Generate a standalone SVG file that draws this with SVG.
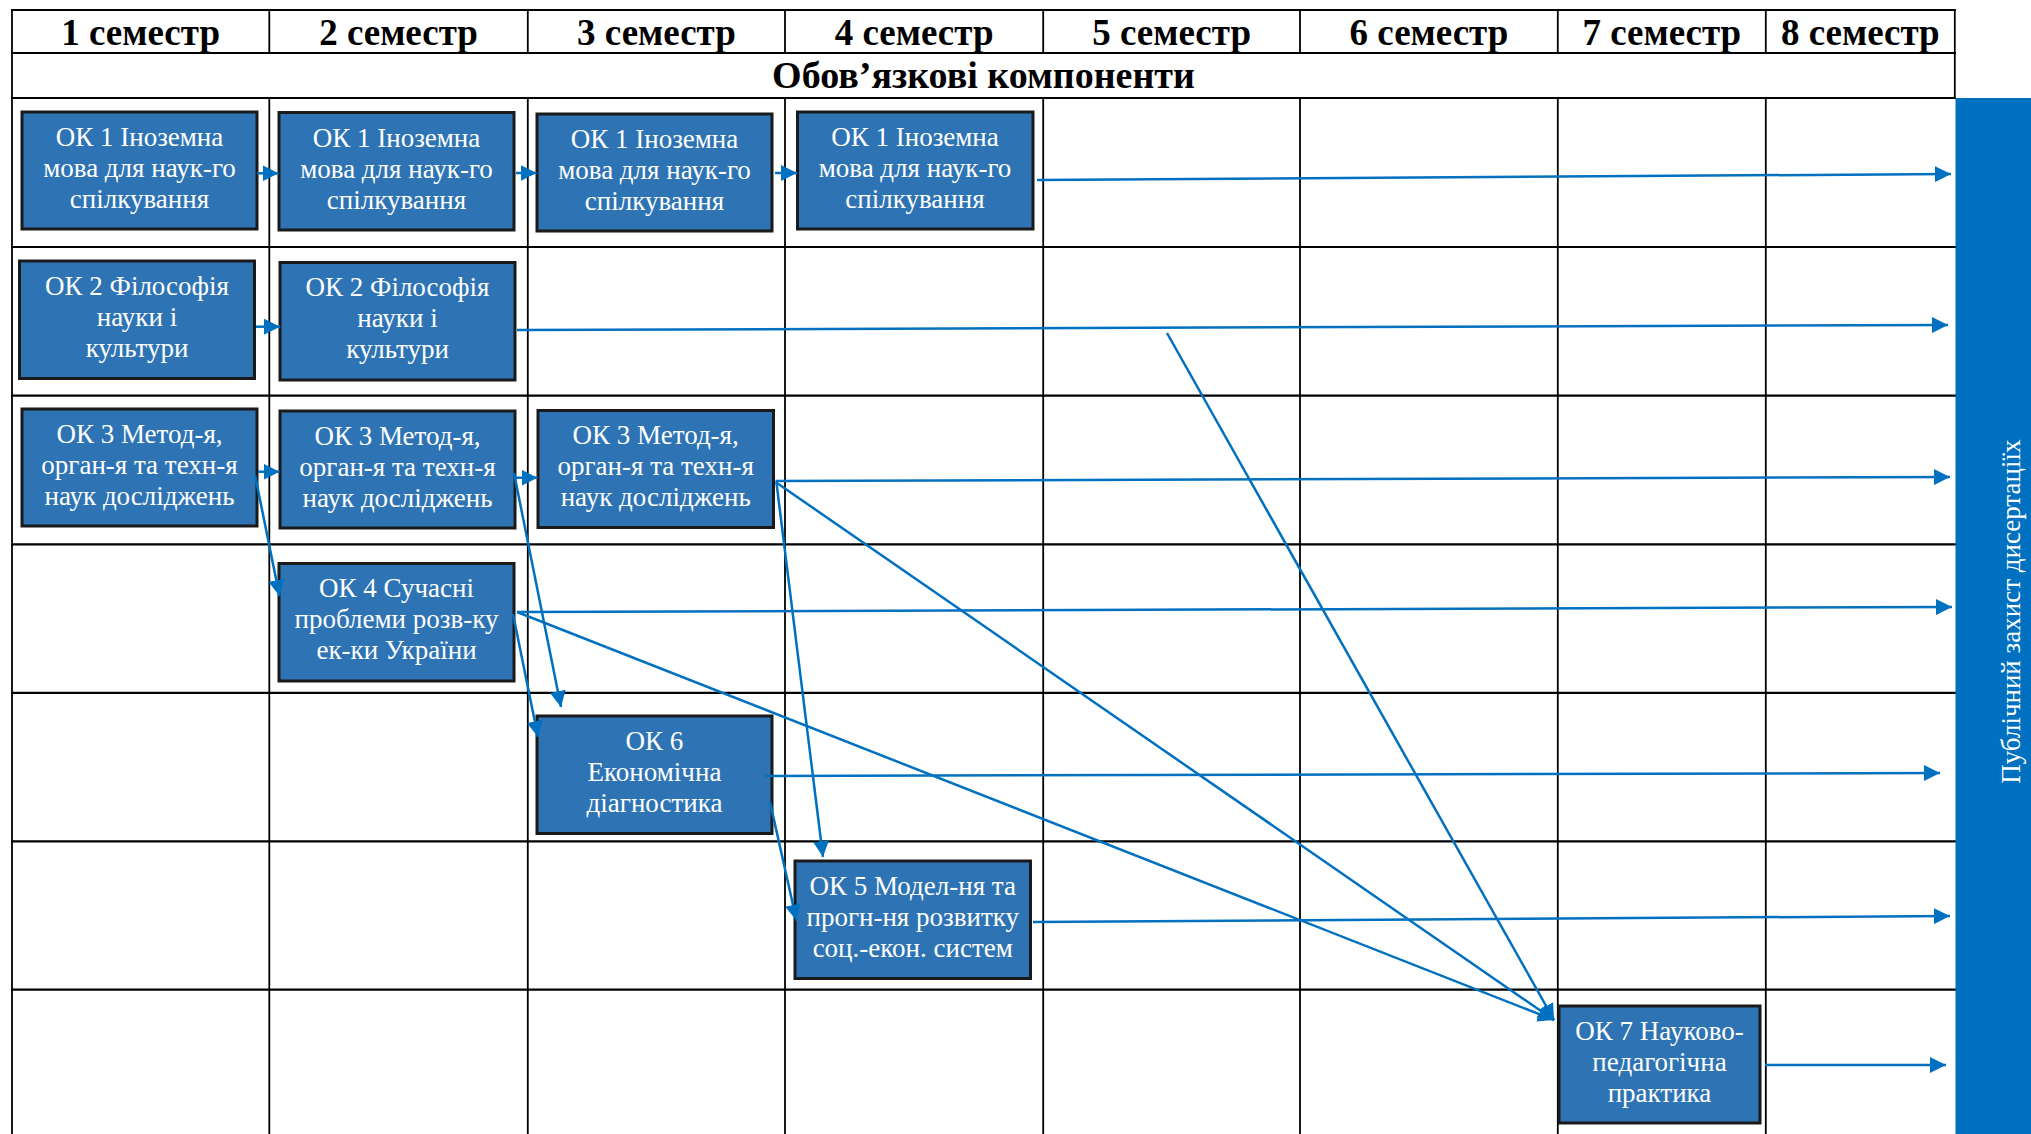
<svg xmlns="http://www.w3.org/2000/svg" width="2031" height="1134" viewBox="0 0 2031 1134">
<style>
.grid line{stroke:#000;}
.h{stroke-width:2.2;}
.v{stroke-width:1.8;}
.hd{font-family:"Liberation Serif","Times New Roman",serif;font-weight:bold;font-size:37px;fill:#000;text-anchor:middle;}
.ttl{font-size:38px;}
.box rect{fill:#2E74B5;stroke:#1a1a1a;stroke-width:3;}
.box text{font-family:"Liberation Serif","Times New Roman",serif;font-size:27px;fill:#fff;text-anchor:middle;}
.conn line{stroke:#0070C0;stroke-width:2.5;fill:none;marker-end:url(#ah);}
.bar{fill:#0070C0;}
.bartext{font-family:"Liberation Serif","Times New Roman",serif;font-size:27px;fill:#fff;text-anchor:middle;}
</style>
<defs>
<marker id="ah" markerUnits="userSpaceOnUse" markerWidth="17" markerHeight="16" refX="16" refY="8" orient="auto">
<path d="M0,0 L16,8 L0,16 z" fill="#0070C0"/>
</marker>
</defs>
<rect x="0" y="0" width="2031" height="1134" fill="#fff"/>
<g id="grid" class="grid">
<line class="h" x1="11" y1="10" x2="1956" y2="10"/>
<line class="h" x1="11" y1="53" x2="1956" y2="53"/>
<line class="h" x1="11" y1="98" x2="1956" y2="98"/>
<line class="h" x1="11" y1="247" x2="1956" y2="247"/>
<line class="h" x1="11" y1="395.6" x2="1956" y2="395.6"/>
<line class="h" x1="11" y1="544.4" x2="1956" y2="544.4"/>
<line class="h" x1="11" y1="692.8" x2="1956" y2="692.8"/>
<line class="h" x1="11" y1="841.3" x2="1956" y2="841.3"/>
<line class="h" x1="11" y1="989.6" x2="1956" y2="989.6"/>
<line class="v" x1="12" y1="9" x2="12" y2="1134"/>
<line class="v" x1="1954.8" y1="9" x2="1954.8" y2="99"/>
<line class="v" x1="269.3" y1="10" x2="269.3" y2="53"/>
<line class="v" x1="527.8" y1="10" x2="527.8" y2="53"/>
<line class="v" x1="785" y1="10" x2="785" y2="53"/>
<line class="v" x1="1043.2" y1="10" x2="1043.2" y2="53"/>
<line class="v" x1="1300" y1="10" x2="1300" y2="53"/>
<line class="v" x1="1557.8" y1="10" x2="1557.8" y2="53"/>
<line class="v" x1="1765.8" y1="10" x2="1765.8" y2="53"/>
<line class="v" x1="269.3" y1="98" x2="269.3" y2="1134"/>
<line class="v" x1="527.8" y1="98" x2="527.8" y2="1134"/>
<line class="v" x1="785" y1="98" x2="785" y2="1134"/>
<line class="v" x1="1043.2" y1="98" x2="1043.2" y2="1134"/>
<line class="v" x1="1300" y1="98" x2="1300" y2="1134"/>
<line class="v" x1="1557.8" y1="98" x2="1557.8" y2="1134"/>
<line class="v" x1="1765.8" y1="98" x2="1765.8" y2="1134"/>
</g>
<g id="headers">
<text class="hd" x="140.6" y="45">1 семестр</text>
<text class="hd" x="398.5" y="45">2 семестр</text>
<text class="hd" x="656.4" y="45">3 семестр</text>
<text class="hd" x="914.1" y="45">4 семестр</text>
<text class="hd" x="1171.6" y="45">5 семестр</text>
<text class="hd" x="1428.9" y="45">6 семестр</text>
<text class="hd" x="1661.8" y="45">7 семестр</text>
<text class="hd" x="1860.3" y="45">8 семестр</text>
<text class="hd ttl" x="983.5" y="88">Обов’язкові компоненти</text>
</g>
<g id="defense">
<rect class="bar" x="1955.5" y="98" width="76" height="1036"/>
<text class="bartext" x="2020" y="611.7" transform="rotate(-90 2020 611.7)">Публічний захист дисертаціїх</text>
</g>
<g id="ok1-s1" class="box"><rect x="22" y="112" width="235" height="117"/>
<text x="139.5" y="146">ОК 1 Іноземна</text><text x="139.5" y="177">мова для наук-го</text><text x="139.5" y="208">спілкування</text></g>
<g id="ok1-s2" class="box"><rect x="279" y="112.5" width="235" height="117.5"/>
<text x="396.5" y="146.5">ОК 1 Іноземна</text><text x="396.5" y="177.5">мова для наук-го</text><text x="396.5" y="208.5">спілкування</text></g>
<g id="ok1-s3" class="box"><rect x="537" y="114" width="235" height="117"/>
<text x="654.5" y="148">ОК 1 Іноземна</text><text x="654.5" y="179">мова для наук-го</text><text x="654.5" y="210">спілкування</text></g>
<g id="ok1-s4" class="box"><rect x="797.5" y="112" width="235.5" height="117"/>
<text x="915" y="146">ОК 1 Іноземна</text><text x="915" y="177">мова для наук-го</text><text x="915" y="208">спілкування</text></g>
<g id="ok2-s1" class="box"><rect x="19.5" y="261" width="235" height="117.5"/>
<text x="137" y="294.5">ОК 2 Філософія</text><text x="137" y="325.5">науки і</text><text x="137" y="356.5">культури</text></g>
<g id="ok2-s2" class="box"><rect x="280" y="262.5" width="235" height="117.5"/>
<text x="397.5" y="296">ОК 2 Філософія</text><text x="397.5" y="327">науки і</text><text x="397.5" y="358">культури</text></g>
<g id="ok3-s1" class="box"><rect x="22" y="409" width="235" height="117"/>
<text x="139.5" y="442.5">ОК 3 Метод-я,</text><text x="139.5" y="473.5">орган-я та техн-я</text><text x="139.5" y="504.5">наук досліджень</text></g>
<g id="ok3-s2" class="box"><rect x="280" y="411" width="235" height="117"/>
<text x="397.5" y="444.5">ОК 3 Метод-я,</text><text x="397.5" y="475.5">орган-я та техн-я</text><text x="397.5" y="506.5">наук досліджень</text></g>
<g id="ok3-s3" class="box"><rect x="538" y="410.5" width="235.5" height="117"/>
<text x="655.7" y="444">ОК 3 Метод-я,</text><text x="655.7" y="475">орган-я та техн-я</text><text x="655.7" y="506">наук досліджень</text></g>
<g id="ok4" class="box"><rect x="279" y="563.5" width="235" height="117.5"/>
<text x="396.5" y="597">ОК 4 Сучасні</text><text x="396.5" y="628">проблеми розв-ку</text><text x="396.5" y="659">ек-ки України</text></g>
<g id="ok6" class="box"><rect x="537" y="716" width="235" height="117.5"/>
<text x="654.5" y="749.5">ОК 6</text><text x="654.5" y="780.5">Економічна</text><text x="654.5" y="811.5">діагностика</text></g>
<g id="ok5" class="box"><rect x="795" y="861" width="235.5" height="117.5"/>
<text x="912.7" y="894.5">ОК 5 Модел-ня та</text><text x="912.7" y="925.5">прогн-ня розвитку</text><text x="912.7" y="956.5">соц.-екон. систем</text></g>
<g id="ok7" class="box"><rect x="1559" y="1006" width="201" height="117"/>
<text x="1659.5" y="1039.5">ОК 7 Науково-</text><text x="1659.5" y="1070.5">педагогічна</text><text x="1659.5" y="1101.5">практика</text></g>
<g id="connectors" class="conn">
<line x1="257" y1="173.3" x2="278.5" y2="173.3"/>
<line x1="516" y1="173" x2="536.5" y2="173"/>
<line x1="775" y1="173" x2="797" y2="173"/>
<line x1="1037" y1="180" x2="1951" y2="174"/>
<line x1="256" y1="326.7" x2="280" y2="326.7"/>
<line x1="517" y1="330" x2="1948" y2="325"/>
<line x1="1167" y1="333" x2="1554" y2="1020"/>
<line x1="258" y1="471.7" x2="279.5" y2="471.7"/>
<line x1="516" y1="477.7" x2="537.5" y2="477.7"/>
<line x1="255" y1="475" x2="279.5" y2="596"/>
<line x1="514" y1="473" x2="561" y2="707"/>
<line x1="513" y1="614" x2="538" y2="737"/>
<line x1="517" y1="612" x2="1952" y2="607"/>
<line x1="517" y1="612" x2="1554" y2="1020"/>
<line x1="775.5" y1="481" x2="1950" y2="477"/>
<line x1="775.5" y1="482" x2="1554" y2="1020"/>
<line x1="776.5" y1="483" x2="823" y2="857"/>
<line x1="765" y1="776" x2="1940" y2="773"/>
<line x1="770" y1="802" x2="796.5" y2="920.5"/>
<line x1="1033" y1="922" x2="1950" y2="916"/>
<line x1="1765" y1="1065" x2="1946" y2="1065"/>
</g>
</svg>
